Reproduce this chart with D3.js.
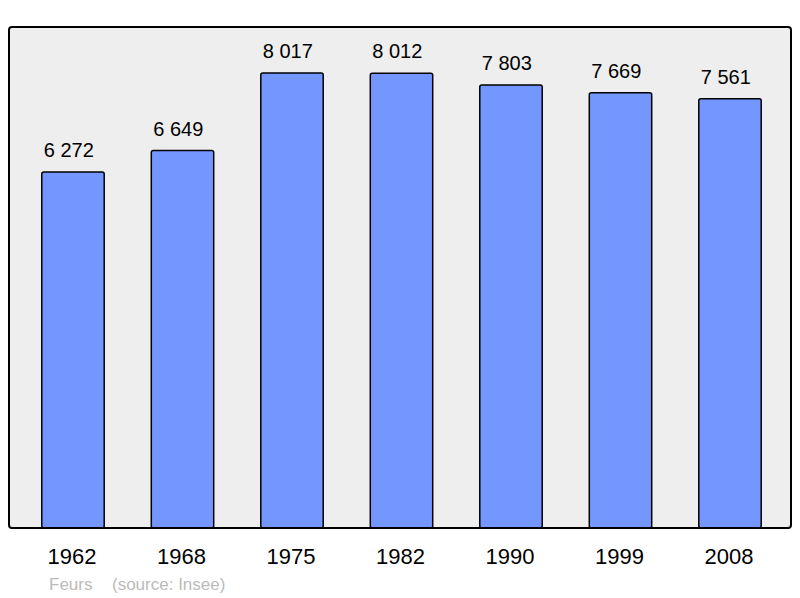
<!DOCTYPE html>
<html>
<head>
<meta charset="utf-8">
<script src="https://cdn.jsdelivr.net/npm/d3@7"></script>
<style>
  body { margin: 0; background: #fff; }
  text { font-family: "Liberation Sans", Arial, sans-serif; }
</style>
</head>
<body>
<script>
// population data
var years = ["1962", "1968", "1975", "1982", "1990", "1999", "2008"];
var population = [6272, 6649, 8017, 8012, 7803, 7669, 7561];
var townName = "Feurs";
var sourceText = "(source: Insee)";

var svgWidth = 800;
var svgHeight = 598;

var panel = { left: 9, top: 27, right: 791, bottom: 528 };

var svg = d3.select("body")
  .append("svg")
  .attr("width", svgWidth)
  .attr("height", svgHeight);

// background panel
svg.append("rect")
  .attr("x", panel.left)
  .attr("y", panel.top)
  .attr("width", panel.right - panel.left)
  .attr("height", panel.bottom - panel.top)
  .attr("rx", 3)
  .attr("fill", "#eeeeee")
  .attr("stroke", "#000")
  .attr("stroke-width", 2);

var xScale = d3.scaleBand()
  .domain(years)
  .range([18.25, 784.75])
  .paddingInner(0.43)
  .paddingOuter(0.215);

var yScale = d3.scaleLinear()
  .domain([0, 8826])
  .range([panel.bottom, panel.top]);

svg.selectAll(".bar")
  .data(years)
  .enter()
  .append("rect")
  .attr("class", "bar")
  .attr("x", d => xScale(d))
  .attr("y", (d, i) => yScale(population[i]))
  .attr("width", xScale.bandwidth())
  .attr("height", (d, i) => panel.bottom - yScale(population[i]))
  .attr("rx", 2)
  .attr("fill", "#7396ff")
  .attr("stroke", "#000")
  .attr("stroke-width", 1.5);

// redraw panel bottom edge over bars
svg.append("line")
  .attr("x1", panel.left + 2)
  .attr("x2", panel.right - 2)
  .attr("y1", panel.bottom)
  .attr("y2", panel.bottom)
  .attr("stroke", "#000")
  .attr("stroke-width", 2);

// value labels (start near the left edge of each bar)
svg.selectAll(".valLabel")
  .data(years)
  .enter()
  .append("text")
  .attr("class", "valLabel")
  .attr("x", d => xScale(d) + 2)
  .attr("y", (d, i) => yScale(population[i]) - 15)
  .attr("font-size", 20)
  .attr("fill", "#000")
  .text((d, i) => d3.format(",")(population[i]).replace(/,/g, " "));

// year axis labels
var xAxis = d3.axisBottom(xScale).tickSize(0).tickPadding(0);
var axisG = svg.append("g")
  .attr("transform", `translate(-1, ${panel.bottom})`)
  .call(xAxis);
axisG.select(".domain").remove();
axisG.selectAll("text")
  .attr("y", 36)
  .attr("dy", 0)
  .attr("font-size", 22)
  .attr("font-family", "Liberation Sans, Arial, sans-serif")
  .attr("fill", "#000");

// footer
svg.append("text")
  .attr("x", 49)
  .attr("y", 590)
  .attr("font-size", 17)
  .attr("fill", "#bbbbbb")
  .text(townName);
svg.append("text")
  .attr("x", 112)
  .attr("y", 590)
  .attr("font-size", 17)
  .attr("fill", "#bbbbbb")
  .text(sourceText);
</script>
</body>
</html>
